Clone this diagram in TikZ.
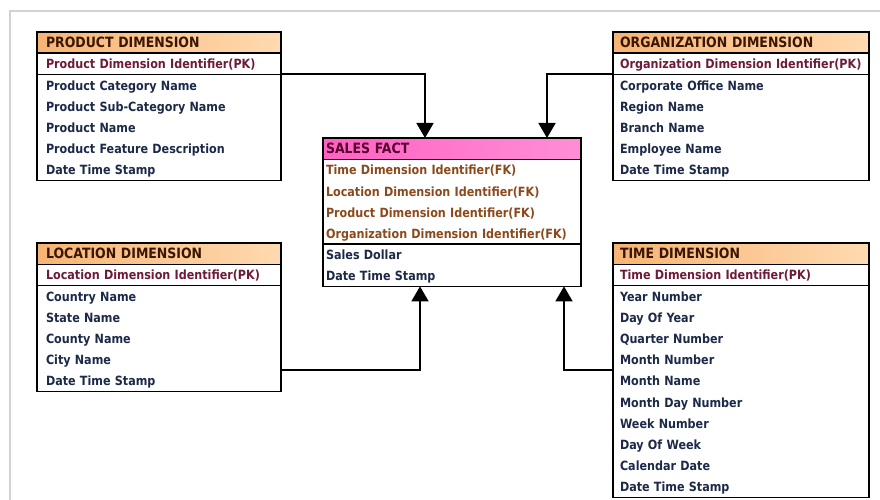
\documentclass[tikz,border=0pt]{standalone}
\usepackage{fontspec}
\setmainfont[FakeStretch=0.88]{DejaVu Sans}
\usetikzlibrary{arrows.meta,calc}

\definecolor{hdrL}{HTML}{F6B474}
\definecolor{hdrR}{HTML}{FFDAB0}
\definecolor{pinkL}{HTML}{FF62C2}
\definecolor{pinkR}{HTML}{FF8ED6}
\definecolor{hdrtext}{HTML}{3A1500}
\definecolor{pktext}{HTML}{6E1B3A}
\definecolor{attrtext}{HTML}{1C2A48}
\definecolor{fktext}{HTML}{8C4A1C}
\definecolor{facttext}{HTML}{55002F}
\definecolor{framegrey}{HTML}{D2D2D2}

% every row of a table is 21.2pt tall
\newcommand\rowstrut{\rule[-5.5pt]{0pt}{21.2pt}}
\newcommand\rowfont{\fontsize{12.7}{21.2}\selectfont\bfseries}
\newcommand\hdrfont{\fontsize{14.2}{21.2}\selectfont\bfseries}

\tikzset{
  cell/.style={draw=black, line width=1.4pt, rectangle, anchor=north west,
    outer sep=0pt, inner ysep=0pt, align=left, font=\rowfont},
  dimw/.style={text width=226pt, inner xsep=9pt},
  dimwide/.style={text width=242pt, inner xsep=7pt},
  factw/.style={text width=252pt, inner xsep=3pt},
  hdr/.style={left color=hdrL, right color=hdrR, text=hdrtext, font=\hdrfont},
  facthdr/.style={left color=pinkL, right color=pinkR, text=facttext, font=\hdrfont},
  pk/.style={fill=white, text=pktext},
  fk/.style={fill=white, text=fktext},
  attr/.style={fill=white, text=attrtext},
  conn/.style={draw=black, line width=1.8pt, -{Triangle[width=17pt,length=15pt]}},
}

\begin{document}
\begin{tikzpicture}[x=1pt, y=-1pt]
\useasboundingbox (0,0) rectangle (880,500);

% window frame
\draw[framegrey, line width=1.5pt] (9,11) -- (880,11);
\draw[framegrey, line width=2pt] (10,11) -- (10,500);

% PRODUCT DIMENSION
\node[cell, dimw, hdr] (prodH) at (37,32) {\rowstrut PRODUCT DIMENSION};
\node[cell, dimw, pk] (prodK) at (prodH.south west) {\rowstrut Product Dimension Identifier(PK)};
\node[cell, dimw, attr] (prodB) at (prodK.south west) {%
  \rowstrut Product Category Name\\
  \rowstrut Product Sub-Category Name\\
  \rowstrut Product Name\\
  \rowstrut Product Feature Description\\
  \rowstrut Date Time Stamp};

% ORGANIZATION DIMENSION
\node[cell, dimwide, hdr] (orgH) at (613,32) {\rowstrut ORGANIZATION DIMENSION};
\node[cell, dimwide, pk] (orgK) at (orgH.south west) {\rowstrut Organization Dimension Identifier(PK)};
\node[cell, dimwide, attr] (orgB) at (orgK.south west) {%
  \rowstrut Corporate Office Name\\
  \rowstrut Region Name\\
  \rowstrut Branch Name\\
  \rowstrut Employee Name\\
  \rowstrut Date Time Stamp};

% SALES FACT
\node[cell, factw, facthdr] (salesH) at (323,138) {\rowstrut SALES FACT};
\node[cell, factw, fk] (salesK) at (salesH.south west) {%
  \rowstrut Time Dimension Identifier(FK)\\
  \rowstrut Location Dimension Identifier(FK)\\
  \rowstrut Product Dimension Identifier(FK)\\
  \rowstrut Organization Dimension Identifier(FK)};
\node[cell, factw, attr] (salesB) at (salesK.south west) {%
  \rowstrut Sales Dollar\\
  \rowstrut Date Time Stamp};

% LOCATION DIMENSION
\node[cell, dimw, hdr] (locH) at (37,243) {\rowstrut LOCATION DIMENSION};
\node[cell, dimw, pk] (locK) at (locH.south west) {\rowstrut Location Dimension Identifier(PK)};
\node[cell, dimw, attr] (locB) at (locK.south west) {%
  \rowstrut Country Name\\
  \rowstrut State Name\\
  \rowstrut County Name\\
  \rowstrut City Name\\
  \rowstrut Date Time Stamp};

% TIME DIMENSION
\node[cell, dimwide, hdr] (timeH) at (613,243) {\rowstrut TIME DIMENSION};
\node[cell, dimwide, pk] (timeK) at (timeH.south west) {\rowstrut Time Dimension Identifier(PK)};
\node[cell, dimwide, attr] (timeB) at (timeK.south west) {%
  \rowstrut Year Number\\
  \rowstrut Day Of Year\\
  \rowstrut Quarter Number\\
  \rowstrut Month Number\\
  \rowstrut Month Name\\
  \rowstrut Month Day Number\\
  \rowstrut Week Number\\
  \rowstrut Day Of Week\\
  \rowstrut Calendar Date\\
  \rowstrut Date Time Stamp};

% connector end points on the fact table
\coordinate (pIn) at ($(salesH.north west)+(102,0)$);
\coordinate (oIn) at ($(salesH.north west)+(224,0)$);
\coordinate (lIn) at ($(salesB.south west)+(97,0)$);
\coordinate (tIn) at ($(salesB.south west)+(241,0)$);
\coordinate (lOut) at ($(locB.north east)+(0,84.8)$);
\coordinate (tOut) at ($(timeB.north west)+(0,84.8)$);

% dimension keys feeding the fact table
\draw[conn] (prodK.south east) -| (pIn);
\draw[conn] (orgK.south west) -| (oIn);
\draw[conn] (lOut) -| (lIn);
\draw[conn] (tOut) -| (tIn);
\end{tikzpicture}
\end{document}
